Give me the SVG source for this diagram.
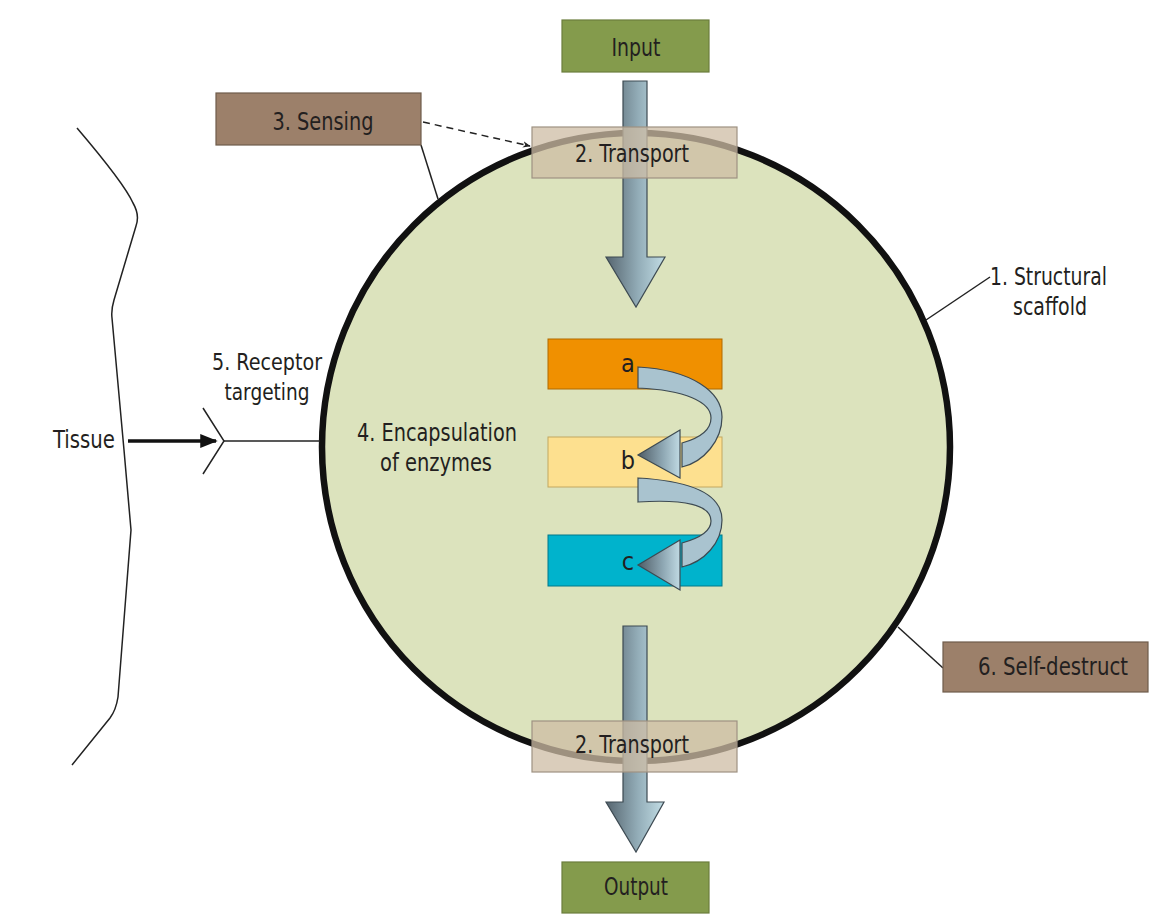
<svg xmlns="http://www.w3.org/2000/svg" width="1159" height="914" viewBox="0 0 1159 914">
<defs>
<linearGradient id="shaft" x1="0" y1="0" x2="1" y2="0">
<stop offset="0" stop-color="#56656f"/>
<stop offset="0.55" stop-color="#93adb8"/>
<stop offset="1" stop-color="#c2dde5"/>
</linearGradient>
<linearGradient id="head" x1="0" y1="0" x2="1" y2="0">
<stop offset="0" stop-color="#4e5c66"/>
<stop offset="0.6" stop-color="#8fa8b4"/>
<stop offset="1" stop-color="#c0dae3"/>
</linearGradient>
<marker id="dashHead" viewBox="0 0 10 10" refX="9" refY="5" markerWidth="8" markerHeight="8" orient="auto" markerUnits="userSpaceOnUse">
<path d="M0,1 L10,5 L0,9 L3,5 Z" fill="#222"/>
</marker>
<marker id="thickHead" viewBox="0 0 10 10" refX="9" refY="5" markerWidth="5" markerHeight="5" orient="auto">
<path d="M0,1 L10,5 L0,9 Z" fill="#111"/>
</marker>
<style>
text{font-family:"Liberation Sans Narrow","DejaVu Sans Condensed","Liberation Sans",sans-serif;fill:#231f20;font-size:25px}
.mid{text-anchor:middle}
.sm{font-size:23px}
.green{fill:#849b4c;stroke:#6b7d3c;stroke-width:1.2}
.brown{fill:#9c806a;stroke:#6f5c4b;stroke-width:1.2}
.trans{fill:#cdbca4;fill-opacity:0.75;stroke:#9e9282;stroke-width:1.2}
.thin{stroke:#222;stroke-width:1.5;fill:none}
.bigarrow{fill:url(#shaft);stroke:#3d4a52;stroke-width:1.2}
.curve{fill:#a9c3cf;stroke:#3d4a52;stroke-width:1.2}
.chead{fill:url(#head);stroke:#3d4a52;stroke-width:1.2}
</style>
</defs>
<rect width="1159" height="914" fill="#ffffff"/>

<g id="tissue">
<path class="thin" d="M77,128 C100,155 125,185 133,203 Q140,215 136,226 L114,300 Q111,310 112,318 L124,450 L131,530 L118,697 Q116,710 110,718 L72,765"/>
<text x="84" y="448" class="mid" textLength="62" lengthAdjust="spacingAndGlyphs">Tissue</text>
</g>

<g id="cell">
<circle cx="636" cy="447" r="314" fill="#dce3bd" stroke="#111" stroke-width="6.5"/>
</g>

<g id="connectors">
<line x1="128" y1="441" x2="216" y2="441" stroke="#111" stroke-width="3.5" marker-end="url(#thickHead)"/>
<polyline class="thin" points="203,408 224,441 203,474"/>
<line class="thin" x1="224" y1="441" x2="320" y2="441"/>
<line class="thin" x1="421" y1="145" x2="438" y2="199"/>
<line x1="423" y1="122" x2="530" y2="146" stroke="#222" stroke-width="1.5" stroke-dasharray="7,5" marker-end="url(#dashHead)"/>
<line class="thin" x1="926" y1="320" x2="990" y2="277"/>
<line class="thin" x1="898" y1="627" x2="943" y2="668"/>
</g>

<g id="input">
<rect class="green" x="562" y="20" width="147" height="52"/>
<text x="636" y="56" class="mid" textLength="49" lengthAdjust="spacingAndGlyphs">Input</text>
</g>

<g id="arrow-in">
<polygon class="bigarrow" points="623,81 647,81 647,257 665,257 636,307 606,257 623,257"/>
</g>

<g id="arrow-out">
<polygon class="bigarrow" points="623,626 647,626 647,802 664,802 636,852 606,802 623,802"/>
</g>

<g id="transport-top">
<rect class="trans" x="532" y="127" width="205" height="51"/>
<text x="632" y="162" class="mid" textLength="114" lengthAdjust="spacingAndGlyphs">2. Transport</text>
</g>

<g id="transport-bottom">
<rect class="trans" x="532" y="721" width="205" height="51"/>
<text x="632" y="753" class="mid" textLength="114" lengthAdjust="spacingAndGlyphs">2. Transport</text>
</g>

<g id="output">
<rect class="green" x="562" y="862" width="147" height="51"/>
<text x="636" y="895" class="mid" textLength="64" lengthAdjust="spacingAndGlyphs">Output</text>
</g>

<g id="sensing">
<rect class="brown" x="216" y="93" width="205" height="52"/>
<text x="323" y="130" class="mid" textLength="101" lengthAdjust="spacingAndGlyphs">3. Sensing</text>
</g>

<g id="self-destruct">
<rect class="brown" x="943" y="642" width="205" height="50"/>
<text x="1053" y="675" class="mid" textLength="150" lengthAdjust="spacingAndGlyphs">6. Self-destruct</text>
</g>

<g id="scaffold">
<text x="990" y="285" textLength="117" lengthAdjust="spacingAndGlyphs">1. Structural</text>
<text x="1050" y="315" class="mid" textLength="74" lengthAdjust="spacingAndGlyphs">scaffold</text>
</g>

<g id="receptor">
<text x="267" y="370" class="mid sm" textLength="110" lengthAdjust="spacingAndGlyphs">5. Receptor</text>
<text x="267" y="400" class="mid sm" textLength="85" lengthAdjust="spacingAndGlyphs">targeting</text>
</g>

<g id="encapsulation">
<text x="437" y="441" class="mid" textLength="160" lengthAdjust="spacingAndGlyphs">4. Encapsulation</text>
<text x="436" y="471" class="mid" textLength="112" lengthAdjust="spacingAndGlyphs">of enzymes</text>
</g>

<g id="enzyme-a">
<rect x="548" y="339" width="174" height="50" fill="#f09000" stroke="#b06a00" stroke-width="1"/>
<text x="628" y="372" class="mid">a</text>
</g>
<g id="enzyme-b">
<rect x="548" y="437" width="174" height="50" fill="#fde08f" stroke="#c2a860" stroke-width="1"/>
<text x="628" y="469" class="mid">b</text>
</g>
<g id="enzyme-c">
<rect x="548" y="535" width="174" height="51" fill="#00b3cc" stroke="#00788a" stroke-width="1"/>
<text x="628" y="570" class="mid">c</text>
</g>

<g id="curve-ab">
<path class="curve" d="M638,367 C692,370 722,392 722,417 C722,440 704,462 682,467 L682,443 C700,438 711,430 711,418 C711,402 685,390 638,388 Z"/>
<polygon class="chead" points="680,430 638,455 680,478"/>
</g>
<g id="curve-bc">
<path class="curve" d="M638,478 C692,481 722,494 722,520 C722,543 704,562 682,567 L682,543 C700,538 711,531 711,521 C711,505 685,499 638,502 Z"/>
<polygon class="chead" points="680,540 638,565 680,590"/>
</g>
</svg>
